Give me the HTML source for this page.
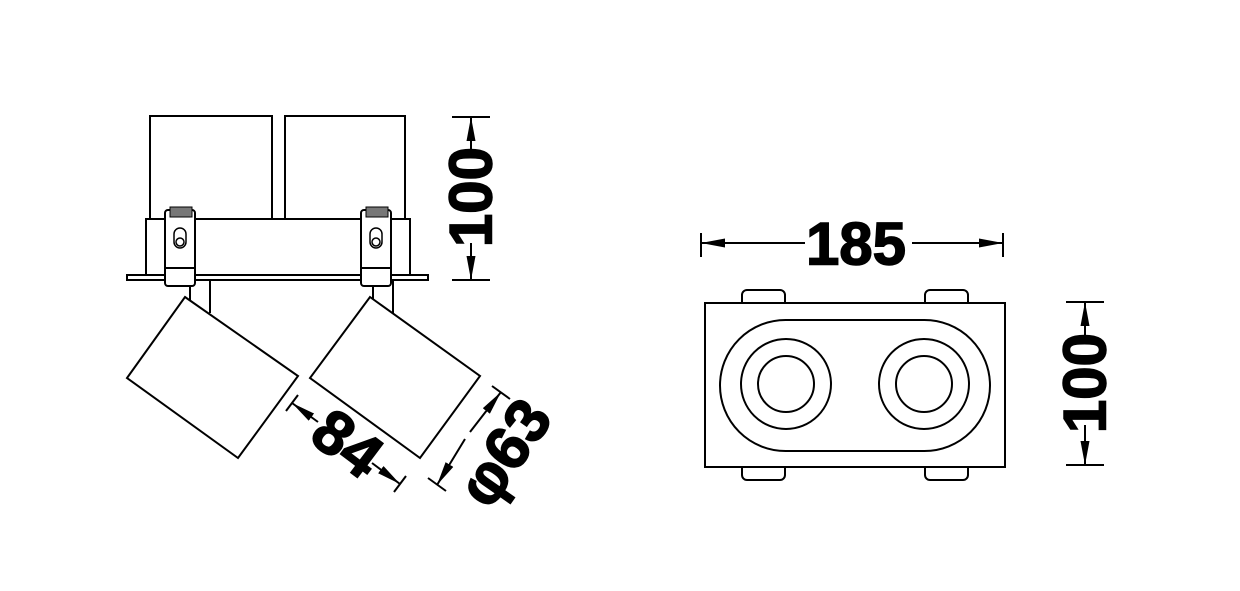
<!DOCTYPE html>
<html><head><meta charset="utf-8"><style>
html,body{margin:0;padding:0;background:#fff;}
svg{display:block;}
text{font-family:"Liberation Sans",sans-serif;font-weight:bold;fill:#000;stroke:#000;stroke-width:1.5;}
</style></head><body>
<svg width="1240" height="591" viewBox="0 0 1240 591" xmlns="http://www.w3.org/2000/svg">
<defs>
<marker id="ar" viewBox="0 0 24 10" refX="24" refY="5" markerWidth="24" markerHeight="10" markerUnits="userSpaceOnUse" orient="auto">
<path d="M0,0.5 L24,5 L0,9.5 Z" fill="#000"/></marker>
</defs>
<g fill="none" stroke="#000" stroke-width="2">
<rect x="150" y="116" width="122" height="103"/>
<rect x="285" y="116" width="120" height="103"/>
<rect x="146" y="219" width="264" height="56"/>
<rect x="127" y="275" width="301" height="5"/>
<g id="clip">
<rect x="165" y="210" width="30" height="76" rx="3" fill="#fff"/>
<rect x="170" y="207" width="22" height="10" fill="#777" stroke-width="1"/>
<rect x="174" y="228" width="12" height="20" rx="6" stroke-width="1.5"/>
<circle cx="180" cy="242" r="4" stroke-width="1.5"/>
<line x1="165" y1="268" x2="195" y2="268"/>
</g>
<use href="#clip" x="196"/>
<line x1="190" y1="287" x2="190" y2="302"/>
<line x1="210" y1="280" x2="210" y2="313"/>
<line x1="373" y1="287" x2="373" y2="302"/>
<line x1="393" y1="280" x2="393" y2="313"/>
<polygon points="185,297 298,376 238,458 127,378" fill="#fff"/>
<polygon points="370,297 480,376 420,458 310,378" fill="#fff"/>
<line x1="452" y1="117" x2="490" y2="117"/>
<line x1="452" y1="280" x2="490" y2="280"/>
<line x1="471" y1="150" x2="471" y2="117" marker-end="url(#ar)"/>
<line x1="471" y1="243" x2="471" y2="280" marker-end="url(#ar)"/>
<line x1="286" y1="411" x2="298" y2="395"/>
<line x1="394" y1="492" x2="406" y2="476"/>
<line x1="318" y1="422" x2="292" y2="403" marker-end="url(#ar)"/>
<line x1="372" y1="463" x2="400" y2="484" marker-end="url(#ar)"/>
<line x1="492" y1="386" x2="510" y2="399"/>
<line x1="428" y1="478" x2="446" y2="491"/>
<line x1="470" y1="432" x2="501" y2="392" marker-end="url(#ar)"/>
<line x1="465" y1="439" x2="437" y2="485" marker-end="url(#ar)"/>
<rect x="742" y="290" width="43" height="20" rx="5" fill="#fff"/>
<rect x="925" y="290" width="43" height="20" rx="5" fill="#fff"/>
<rect x="742" y="460" width="43" height="20" rx="5" fill="#fff"/>
<rect x="925" y="460" width="43" height="20" rx="5" fill="#fff"/>
<rect x="705" y="303" width="300" height="164" fill="#fff"/>
<rect x="720" y="320" width="270" height="131" rx="65.5" ry="65.5"/>
<circle cx="786" cy="384" r="45"/>
<circle cx="786" cy="384" r="28"/>
<circle cx="924" cy="384" r="45"/>
<circle cx="924" cy="384" r="28"/>
<line x1="701" y1="233" x2="701" y2="257"/>
<line x1="1003" y1="233" x2="1003" y2="257"/>
<line x1="805" y1="243" x2="701" y2="243" marker-end="url(#ar)"/>
<line x1="912" y1="243" x2="1003" y2="243" marker-end="url(#ar)"/>
<line x1="1066" y1="302" x2="1104" y2="302"/>
<line x1="1066" y1="465" x2="1104" y2="465"/>
<line x1="1085" y1="337" x2="1085" y2="302" marker-end="url(#ar)"/>
<line x1="1085" y1="425" x2="1085" y2="465" marker-end="url(#ar)"/>
</g>
<text x="471" y="197" font-size="60" text-anchor="middle" dominant-baseline="central" transform="rotate(-90 471 197)">100</text>
<text x="1085" y="383" font-size="60" text-anchor="middle" dominant-baseline="central" transform="rotate(-90 1085 383)">100</text>
<text x="856" y="244" font-size="60" text-anchor="middle" dominant-baseline="central">185</text>
<text x="347" y="444" font-size="62" text-anchor="middle" dominant-baseline="central" transform="rotate(37 347 444)">84</text>
<text x="505" y="453" font-size="62" text-anchor="middle" dominant-baseline="central" transform="rotate(-55 505 453)">φ63</text>
</svg>
</body></html>
